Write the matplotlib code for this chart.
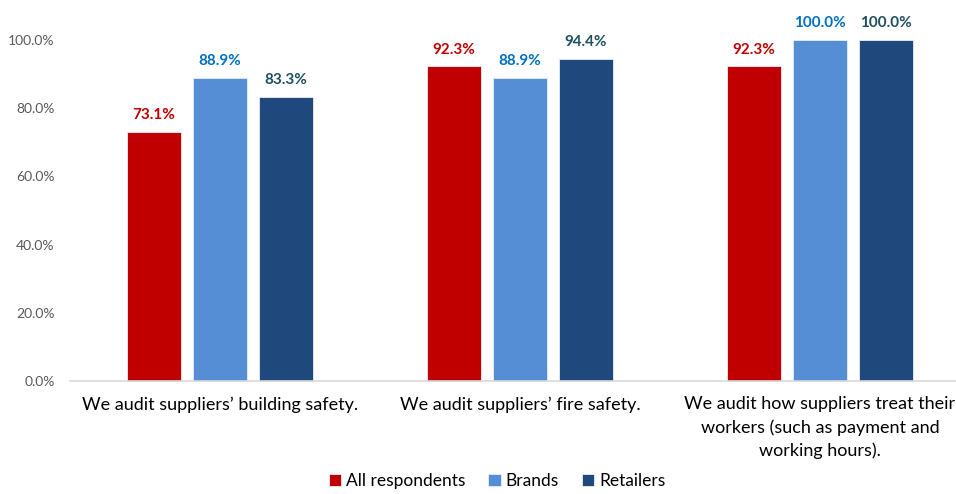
import numpy as np
import matplotlib.pyplot as plt

plt.rcParams['font.family'] = ['Lato', 'DejaVu Sans']

categories = ['We audit suppliers\u2019 building safety.',
              'We audit suppliers\u2019 fire safety.',
              'We audit how suppliers treat their\nworkers (such as payment and\nworking hours).']
series = ['All respondents', 'Brands', 'Retailers']
all_resp = [73.1, 92.3, 92.3]
brands = [88.9, 88.9, 100.0]
retailers = [83.3, 94.4, 100.0]
yticks = [0, 20, 40, 60, 80, 100]

bar_colors = ['#C00000', '#558ED5', '#1F497D']
label_colors = ['#C00000', '#0070C0', '#1F4E5F']

W, H = 956, 494
fig = plt.figure(figsize=(W / 100, H / 100), dpi=100)
# plot area: left 70px, 300px per category, runs past the right edge (clipped as in the original)
left_px = 70
ax = fig.add_axes([left_px / W, (H - 381) / H, 1 - left_px / W, (381 - 40) / H])
ax.set_xlim(-0.5, -0.5 + (W - left_px) / 300)
ax.set_ylim(0, 100)

x = np.arange(len(categories))
width = 0.177
offsets = [-0.22, 0, 0.22]
for vals, off, c, lc, name in zip([all_resp, brands, retailers], offsets, bar_colors, label_colors, series):
    bars = ax.bar(x + off, vals, width, color=c, label=name, edgecolor='#E8EEF6', linewidth=0.6, clip_on=False)
    for b, v in zip(bars, vals):
        ax.annotate('%.1f%%' % v, (b.get_x() + b.get_width() / 2, v), xytext=(0, 7),
                    textcoords='offset points', ha='center', va='bottom',
                    color=lc, fontsize=11, fontweight='bold', annotation_clip=False)

for s in ['top', 'right', 'left']:
    ax.spines[s].set_visible(False)
ax.spines['bottom'].set_color('#D9D9D9')
ax.spines['bottom'].set_linewidth(1.2)

ax.set_yticks(yticks)
ax.set_yticklabels(['%.1f%%' % t for t in yticks], color='#595959', fontsize=10)
ax.tick_params(axis='y', length=0, pad=11)

ax.set_xticks(x)
ax.set_xticklabels(categories, fontsize=13, color='black', va='top', linespacing=1.5)
ax.tick_params(axis='x', length=0, pad=11)

leg = fig.legend(loc='lower center', bbox_to_anchor=(0.52, -0.022), ncol=3, frameon=False,
                 fontsize=12.5, handlelength=0.7, handleheight=0.7, handletextpad=0.3, columnspacing=1.3)

fig.savefig('out.png', dpi=100)
